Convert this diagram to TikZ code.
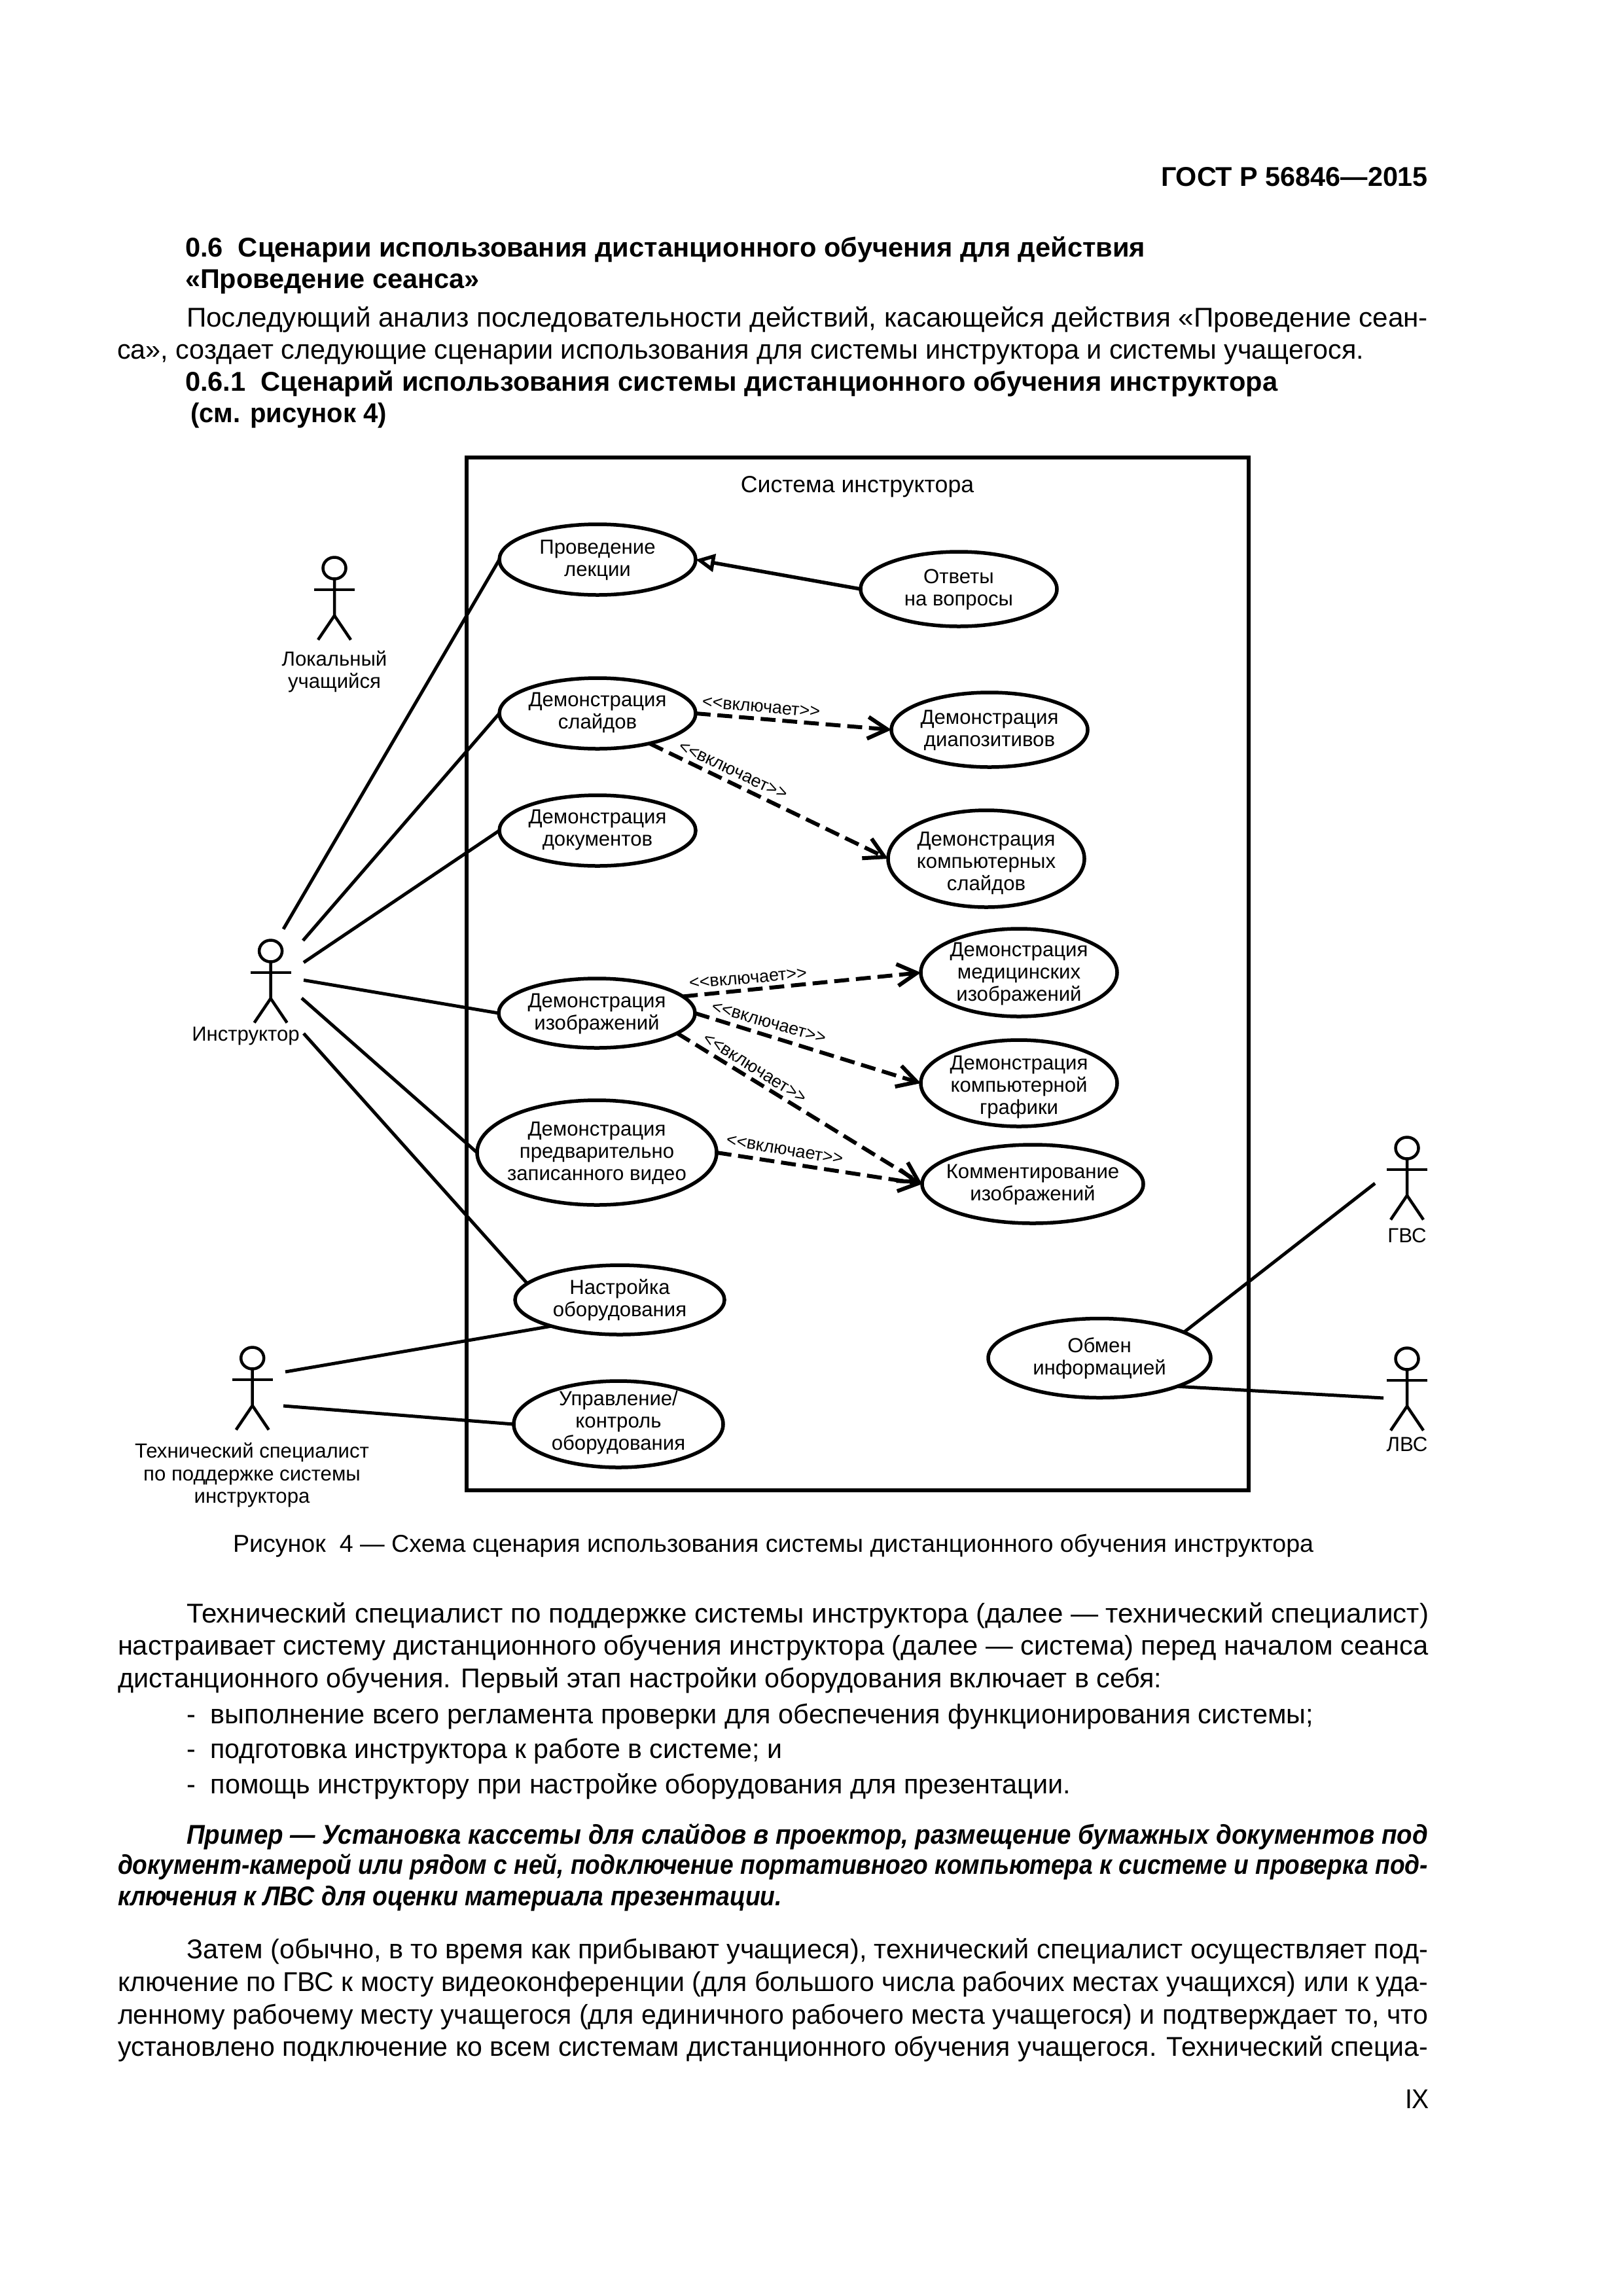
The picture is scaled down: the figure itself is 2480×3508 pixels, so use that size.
\documentclass[tikz,border=0pt]{standalone}
\usepackage{fontspec}
\usepackage{graphicx}
\setmainfont{Liberation Sans}
\usetikzlibrary{shapes.geometric,arrows.meta}
\newdimen\pxd \pxd=0.2409pt
\newcommand\bodyf{\fontsize{10}{12}\selectfont}
\newcommand\headf{\fontsize{10}{12}\selectfont\bfseries}
\newcommand\exf{\fontsize{10}{12}\selectfont\bfseries\itshape}
\newcommand\capf{\fontsize{9}{11}\selectfont}
\newcommand\ucf{\fontsize{7.5}{8.2}\selectfont}
\newcommand\actf{\fontsize{7.5}{8.3}\selectfont}
\newcommand\relf{\fontsize{6.5}{7.5}\selectfont}
\newcommand\incl{<\kern0pt<включает>\kern0pt>}
\newcommand\uct[2][0]{\makebox[0pt][c]{\smash{\raisebox{\dimexpr-0.28em-#1\pxd\relax}{\begin{tabular}{@{}c@{}}#2\end{tabular}}}}}
\tikzset{
 tln/.style={anchor=base west,inner sep=0pt,outer sep=0pt},
 uc/.style={ellipse,draw,line width=5.5\pxd,inner sep=0pt,outer sep=0pt,font=\ucf},
 achead/.style={ellipse,draw,line width=4.5\pxd,inner sep=0pt,outer sep=0pt,minimum width=35\pxd,minimum height=33\pxd},
 actline/.style={line width=4.5\pxd},
 assoc/.style={line width=5\pxd},
 incl/.style={line width=6\pxd,dash pattern=on 5.5pt off 2.5pt,-{Straight Barb[length=7.2pt,width=8pt]}},
 gener/.style={line width=5.5\pxd,-{Triangle[open,length=7pt,width=6.5pt]}},
 rel/.style={font=\relf,inner sep=0pt},
 actlab/.style={font=\actf,align=center,inner sep=0pt},
}
\newcommand\tl[6]{\node[tln,font=#5] (#1) at (#2,#3) {\resizebox{#4\pxd}{\height}{#6}};}
\newcommand\actor[3]{%
 \node[achead] (#1h) at (#2,#3) {};
 \draw[actline] (#1h.south) -- ++(0,56) coordinate (#1c) -- ++(-25,37);
 \draw[actline] (#1c) -- ++(25,37);
 \draw[actline] (#2-31,#3+33) -- (#2+31,#3+33);
}
\begin{document}
\begin{tikzpicture}[x=0.2409pt,y=-0.2409pt]
\useasboundingbox (0,0) rectangle (2480,3508);
\fill[white] (0,0) rectangle (2480,3508);
% text
\tl{t1}{1774}{284}{408}{\headf}{ГОСТ Р 56846—2015}
\tl{t2}{283}{392.7}{1467}{\headf}{0.6~~Сценарии использования дистанционного обучения для действия}
\tl{t3}{283}{440}{450}{\headf}{«Проведение сеанса»}
\tl{t4}{285}{499}{1897}{\bodyf}{Последующий анализ последовательности действий, касающейся действия «Проведение сеан-}
\tl{t5}{179}{548}{1905}{\bodyf}{са», создает следующие сценарии использования для системы инструктора и системы учащегося.}
\tl{t6}{283}{597}{1669}{\headf}{0.6.1~~Сценарий использования системы дистанционного обучения инструктора}
\tl{t7}{291}{645}{300}{\headf}{(см. рисунок 4)}
\tl{c1}{356}{2371}{1651}{\capf}{Рисунок~~4 — Схема сценария использования системы дистанционного обучения инструктора}
\tl{b1}{285}{2479}{1898}{\bodyf}{Технический специалист по поддержке системы инструктора (далее — технический специалист)}
\tl{b2}{180}{2528}{2003}{\bodyf}{настраивает систему дистанционного обучения инструктора (далее — система) перед началом сеанса}
\tl{b3}{180}{2578}{1595}{\bodyf}{дистанционного обучения. Первый этап настройки оборудования включает в себя:}
\tl{b4}{285}{2633}{1722}{\bodyf}{-~~выполнение всего регламента проверки для обеспечения функционирования системы;}
\tl{b5}{285}{2686}{910}{\bodyf}{-~~подготовка инструктора к работе в системе; и}
\tl{b6}{285}{2740}{1351}{\bodyf}{-~~помощь инструктору при настройке оборудования для презентации.}
\tl{e1}{285}{2817}{1897}{\exf}{Пример — Установка кассеты для слайдов в проектор, размещение бумажных документов под}
\tl{e2}{180}{2863}{2002}{\exf}{документ-камерой или рядом с ней, подключение портативного компьютера к системе и проверка под-}
\tl{e3}{180}{2911}{1015}{\exf}{ключения к ЛВС для оценки материала презентации.}
\tl{d1}{285}{2992}{1897}{\bodyf}{Затем (обычно, в то время как прибывают учащиеся), технический специалист осуществляет под-}
\tl{d2}{180}{3042}{2002}{\bodyf}{ключение по ГВС к мосту видеоконференции (для большого числа рабочих местах учащихся) или к уда-}
\tl{d3}{180}{3092}{2002}{\bodyf}{ленному рабочему месту учащегося (для единичного рабочего места учащегося) и подтверждает то, что}
\tl{d4}{180}{3141}{2002}{\bodyf}{установлено подключение ко всем системам дистанционного обучения учащегося. Технический специа-}
\tl{pg}{2147}{3221}{37}{\bodyf}{IX}
% system box
\node[draw,line width=6\pxd,inner sep=0pt,outer sep=0pt,minimum width=1195\pxd,minimum height=1578\pxd] (sys) at (1310,1488) {};
\node[font=\fontsize{8.6}{10}\selectfont,inner sep=0pt] (systitle) at (1310,744) {Система инструктора};
% use cases
\node[uc,minimum width=300\pxd,minimum height=108\pxd] (pl) at (913,855) {\uct{Проведение\\лекции}};
\node[uc,minimum width=300\pxd,minimum height=114\pxd] (otv) at (1465,900) {\uct{Ответы\\на вопросы}};
\node[uc,minimum width=300\pxd,minimum height=108\pxd] (sl) at (913,1090) {\uct[-2]{Демонстрация\\слайдов}};
\node[uc,minimum width=300\pxd,minimum height=114\pxd] (dia) at (1512,1115) {\uct{Демонстрация\\диапозитивов}};
\node[uc,minimum width=300\pxd,minimum height=108\pxd] (doc) at (913,1269) {\uct[-2]{Демонстрация\\документов}};
\node[uc,minimum width=300\pxd,minimum height=148\pxd] (cs) at (1507,1312) {\uct[6]{Демонстрация\\компьютерных\\слайдов}};
\node[uc,minimum width=300\pxd,minimum height=134\pxd] (med) at (1557,1486) {\uct[1]{Демонстрация\\медицинских\\изображений}};
\node[uc,minimum width=300\pxd,minimum height=106\pxd] (img) at (912,1548) {\uct{Демонстрация\\изображений}};
\node[uc,minimum width=300\pxd,minimum height=132\pxd] (gr) at (1557,1655) {\uct[5]{Демонстрация\\компьютерной\\графики}};
\node[uc,minimum width=366\pxd,minimum height=160\pxd] (vid) at (912,1761) {\uct{Демонстрация\\предварительно\\записанного видео}};
\node[uc,minimum width=338\pxd,minimum height=120\pxd] (com) at (1578,1809) {\uct{Комментирование\\изображений}};
\node[uc,minimum width=320\pxd,minimum height=106\pxd] (nas) at (947,1986) {\uct{Настройка\\оборудования}};
\node[uc,minimum width=320\pxd,minimum height=132\pxd] (upr) at (945,2176) {\uct[-3]{Управление/\\контроль\\оборудования}};
\node[uc,minimum width=340\pxd,minimum height=121\pxd] (obm) at (1680,2075) {\uct{Обмен\\информацией}};
% actors
\actor{loc}{511}{868}
\actor{ins}{413.6}{1453}
\actor{tex}{385.7}{2075}
\actor{gvs}{2150}{1754}
\actor{lvs}{2150}{2076}
\node[actlab] (locl) at (511,1026) {Локальный\\учащийся};
\node[actlab,anchor=base] (insl) at (375.5,1590) {Инструктор};
\node[actlab] (texl) at (385,2254) {Технический специалист\\по поддержке системы\\инструктора};
\node[actlab,anchor=base] (gvsl) at (2150,1898) {ГВС};
\node[actlab,anchor=base] (lvsl) at (2150,2217) {ЛВС};
% free ends
\coordinate (i1) at (433,1419.5);
\coordinate (i2) at (463,1437);
\coordinate (i3) at (464,1470.5);
\coordinate (i4) at (464,1497.5);
\coordinate (i5) at (461,1525);
\coordinate (i6) at (464,1579);
\coordinate (t1e) at (436,2096);
\coordinate (t2e) at (433,2148);
\coordinate (g1) at (2101,1808);
\coordinate (l1) at (2114,2136);
% associations
\draw[assoc] (i1) -- (pl.west);
\draw[assoc] (i2) -- (sl.west);
\draw[assoc] (i3) -- (doc.west);
\draw[assoc] (i4) -- (img.west);
\draw[assoc] (i5) -- (vid.west);
\draw[assoc] (i6) -- (nas.170);
\draw[assoc] (t1e) -- (nas.201);
\draw[assoc] (t2e) -- (upr.west);
\draw[assoc] (g1) -- (obm.17);
\draw[assoc] (l1) -- (obm.-20.6);
% relations
\draw[gener] (otv.west) -- (pl.east);
\draw[incl] (sl.east) -- (dia.west);
\draw[incl] (sl.-30) -- (cs.west);
\draw[incl] (img.11.7) -- (med.west);
\draw[incl] (img.east) -- (gr.west);
\draw[incl] (img.-14.4) -- (com.west);
\draw[incl] (vid.east) -- (com.west);
\node[rel,rotate=-5] (r1) at (1163,1080.5) {\incl};
\node[rel,rotate=-25] (r2) at (1120,1177.5) {\incl};
\node[rel,rotate=5] (r3) at (1143,1495) {\incl};
\node[rel,rotate=-16] (r4) at (1174.6,1562.5) {\incl};
\node[rel,rotate=-32] (r5) at (1153.5,1632.5) {\incl};
\node[rel,rotate=-9.5] (r6) at (1199,1757) {\incl};
\end{tikzpicture}
\end{document}
